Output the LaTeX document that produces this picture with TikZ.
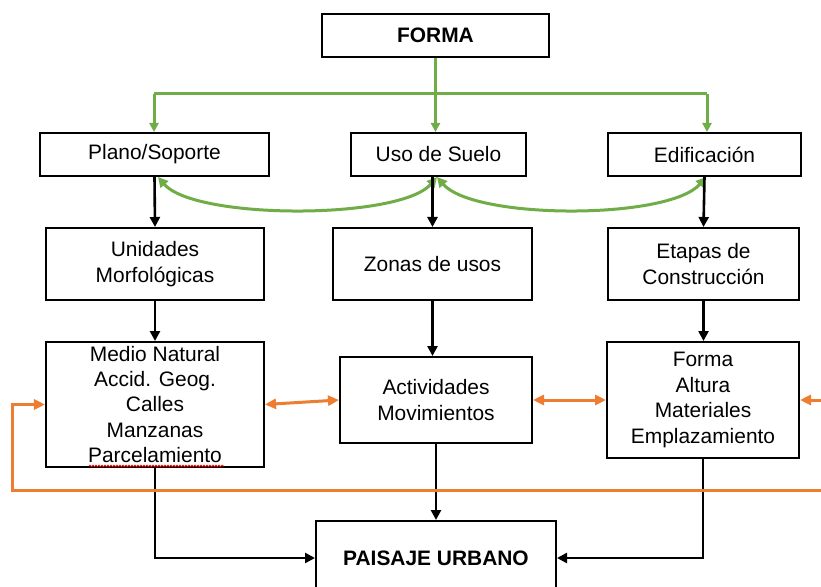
\documentclass[tikz,border=0pt]{standalone}
\usepackage{fontspec}
\setmainfont{Liberation Sans}
\usetikzlibrary{arrows.meta,decorations.pathmorphing}
\definecolor{grn}{HTML}{70AD47}
\definecolor{org}{HTML}{ED7D31}
\begin{document}
\begin{tikzpicture}[x=1bp,y=-1bp,
  box/.style={draw=black,line width=2bp,inner sep=0pt,align=center,
    font=\fontsize{21}{25.5}\selectfont},
  blk/.style={draw=black,line width=2.6bp,-{Triangle[length=10bp,width=10bp]}},
  gr/.style={draw=grn,line width=3bp,-{Triangle[length=9bp,width=9bp]}},
  grr/.style={draw=grn,line width=3bp,{Triangle[length=10bp,width=10bp]}-{Triangle[length=10bp,width=10bp]}},
  orr/.style={draw=org,line width=3bp,{Triangle[length=11bp,width=10bp]}-{Triangle[length=11bp,width=10bp]}},
  or/.style={draw=org,line width=3bp,-{Triangle[length=11bp,width=10bp]}}]
\useasboundingbox (0,0) rectangle (821,587);
\fill[white] (0,0) rectangle (821,587);
\clip (0,0) rectangle (821,587);
% nodes
\node[box,minimum width=227bp,minimum height=43bp,font=\fontsize{21}{25.5}\selectfont\bfseries] (forma) at (435.5,35.5) {FORMA};
\node[box,minimum width=229bp,minimum height=43bp] (plano) at (154.5,154.5) {Plano/Soporte};
\node[box,minimum width=175bp,minimum height=43bp] (uso) at (438.5,154.5) {Uso de Suelo};
\node[box,minimum width=193bp,minimum height=43bp] (edif) at (704.5,154.5) {Edificación};
\node[box,minimum width=218bp,minimum height=72bp] (unid) at (155,264) {Unidades\\Morfológicas};
\node[box,minimum width=199bp,minimum height=72bp] (zonas) at (432.5,264) {Zonas de usos};
\node[box,minimum width=191bp,minimum height=72bp] (etapas) at (703.5,264) {Etapas de\\Construcción};
\node[box,minimum width=218bp,minimum height=125bp] (medio) at (155,404.5) {Medio Natural\\Accid. Geog.\\Calles\\Manzanas\\Parcelamiento};
\node[box,minimum width=192bp,minimum height=86bp] (activ) at (436,400) {Actividades\\Movimientos};
\node[box,minimum width=192bp,minimum height=116bp] (falt) at (703,400) {Forma\\Altura\\Materiales\\Emplazamiento};
\node[box,minimum width=240bp,minimum height=74bp,font=\fontsize{21}{25.5}\selectfont\bfseries] (paisaje) at (436,558) {PAISAJE URBANO};
% spell-check underline
\draw[red,line width=0.8bp,decorate,decoration={snake,amplitude=0.8bp,segment length=3bp}] (89,466) -- (224,466);
% green connectors
\coordinate (gl) at (154,94);
\coordinate (gm) at (435.5,94);
\coordinate (gr) at (707,94);
\draw[grn,line width=3bp] (forma.south) -- (gm);
\draw[grn,line width=3bp] (gl) -- (gr);
\draw[gr] (gl) -- (gl |- plano.north);
\draw[gr] (gm) -- (gm |- uso.north);
\draw[gr] (gr) -- (gr |- edif.north);
\coordinate (c1) at (158,177);
\coordinate (c2) at (437,177);
\coordinate (c3) at (706,177);
\draw[grr] (c1) .. controls (195,220) and (400,220) .. (c2);
\draw[grr] (c2) .. controls (474,220) and (669,220) .. (c3);
% black vertical arrows
\draw[blk] (plano.south) -- (unid.north);
\draw[blk] (uso.south -| zonas.north) -- (zonas.north);
\draw[blk] (edif.south) -- (etapas.north);
\draw[blk] (unid.south) -- (medio.north);
\draw[blk] (zonas.south) -- (activ.north -| zonas.south);
\draw[blk] (etapas.south) -- (falt.north -| etapas.south);
\draw[blk] (medio.south) |- (paisaje.west);
\draw[blk] (activ.south) -- (paisaje.north);
\draw[blk] (falt.south) |- (paisaje.east);
% orange connectors
\draw[orr] (medio.east) -- (activ.west);
\draw[orr] (activ.east) -- (falt.west);
\coordinate (r1) at (830,400);
\draw[or] (r1) -- (falt.east);
\coordinate (r2) at (830,490);
\coordinate (l2) at (12,490);
\draw[or] (r2) -- (l2) |- (medio.west);
\end{tikzpicture}
\end{document}
